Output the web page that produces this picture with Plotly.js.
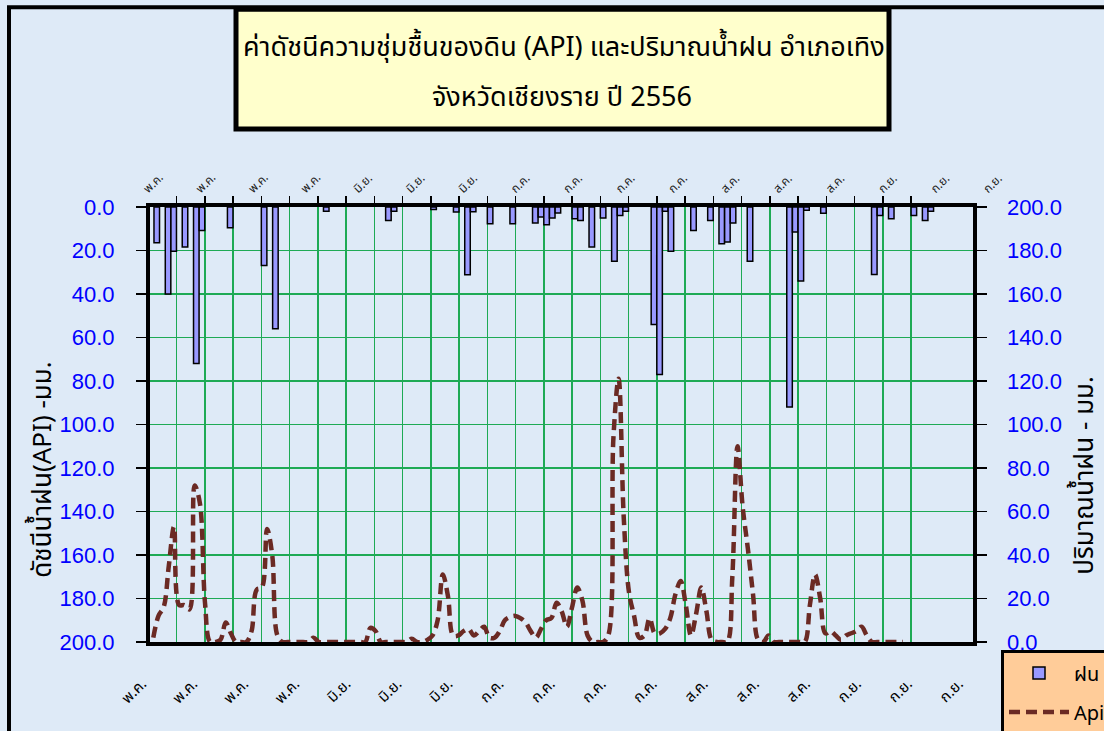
<!DOCTYPE html>
<html><head><meta charset="utf-8">
<script src="https://cdn.plot.ly/plotly-3.0.1.min.js"></script>
<style>html,body{margin:0;padding:0;overflow:hidden;background:#deeaf7}</style>
</head><body><div id="chart" style="width:1104px;height:731px"></div>
<script>
// ---- data ----
const barDays = [1,3,4,6,8,9,14,20,22,31,42,43,50,54,56,57,60,64,68,69,70,71,72,75,76,78,80,82,83,84,89,90,91,92,96,99,101,102,103,106,113,114,115,116,119,128,129,131,135,137,138];
const rainMM = [16.4,40,20.4,18.4,72,10.8,9.5,26.9,56,2,6.2,2,1.2,2.3,31.2,2.2,7.7,7.7,7.4,4.6,8.2,5.1,2.8,5.4,6.2,18.4,5,25,3.9,2,54,77,2,20.4,10.8,6.2,16.9,16.1,7.4,25,92,11.5,34,1.5,2.9,31,3.9,5.4,3.9,6.2,2];
const apiValues = [2,12,16,35,53,17,17,15,72,64,18,0,0,1,9,4,0,0,0,5,24,25,52,40,3,0,0,0,0,0,0,2,0,0,0,0,0,0,0,0,0,0,6.5,5,0,0,0,0,0,0,1.5,0,0,1,3,10,31,21,3,3,5,6,3,5,7,2,2,5,10,11.5,12,11,9,5,2,6,10,11,18,14,7,16,25,19,3,0,0,0,3,94,121,57,23,12,2,3,11,4,4,6,11,22,28,17,3,13,25,14,1,0,0,0,30,90,62,43,22,1,0,3,0,0,0,0,0,0,0,17,31,20,4,5,3,1,3,4,5,7,3,0,0,0,0,0,0,0];
const apiDays = apiValues.map((v, i) => i);
const labelDays = [0,9,18,27,36,45,54,63,72,81,90,99,108,117,126,135,144];
const topLabels = ['พ.ค.','พ.ค.','พ.ค.','พ.ค.','มิ.ย.','มิ.ย.','มิ.ย.','ก.ค.','ก.ค.','ก.ค.','ก.ค.','ส.ค.','ส.ค.','ส.ค.','ก.ย.','ก.ย.','ก.ย.'];
const bottomLabels = ['พ.ค.','พ.ค.','พ.ค.','พ.ค.','มิ.ย.','มิ.ย.','มิ.ย.','ก.ค.','ก.ค.','ก.ค.','ก.ค.','ส.ค.','ส.ค.','ส.ค.','ก.ย.','ก.ย.','ก.ย.'];
const titleLine1 = 'ค่าดัชนีความชุ่มชื้นของดิน (API) และปริมาณน้ำฝน อำเภอเทิง';
const titleLine2 = 'จังหวัดเชียงราย ปี 2556';
const leftTitle = 'ดัชนีน้ำฝน(API) -มม.';
const rightTitle = 'ปริมาณน้ำฝน - มม.';

// ---- layout helpers (pixel -> paper) ----
const L = 100, R = 100, T = 207, B = 88.5;
const PW = 1104 - L - R, PH = 731 - T - B;
const PX = px => (px - L) / PW;
const PY = py => (642.5 - py) / PH;
const FONT = "'Noto Sans Thai', Tahoma, 'Liberation Sans', 'Noto Sans', sans-serif";
const NUMFONT = "'Liberation Sans', Arial, sans-serif";
const GREEN = '#1eaa55';
const BG = '#deeaf7';

const gridVals = [];
for (let v = 4.5; v <= 134.6; v += 5) gridVals.push(v);

const barTrace = {
  type: 'bar', name: 'ฝน', x: barDays, y: rainMM, xaxis: 'x', yaxis: 'y',
  marker: {color: '#9999ff', line: {color: '#000', width: 1.5}},
  legendgroup: 'a'
};
const lineTrace = {
  type: 'scatter', mode: 'lines', name: 'Api', x: apiDays, y: apiValues, xaxis: 'x2', yaxis: 'y2',
  line: {color: '#6b2a24', width: 4.5, dash: '11px,6px', shape: 'spline', smoothing: 1},
  legendgroup: 'b'
};
// empty carriers so the label-only axes get drawn
const topLabelCarrier = {type: 'scatter', mode: 'markers', x: [], y: [], xaxis: 'x3', yaxis: 'y3', showlegend: false};
const bottomLabelCarrier = {type: 'scatter', mode: 'markers', x: [], y: [], xaxis: 'x4', yaxis: 'y3', showlegend: false};

const layout = {
  width: 1104, height: 731,
  margin: {l: L, r: R, t: T, b: B, autoexpand: false},
  paper_bgcolor: BG, plot_bgcolor: 'rgba(0,0,0,0)',
  font: {family: FONT, color: '#000'},
  bargap: 0.02,
  showlegend: true,
  legend: {x: PX(1001), y: PY(651), xanchor: 'left', yanchor: 'top', bgcolor: '#ffcc99',
    bordercolor: '#000', borderwidth: 3, font: {size: 20, family: FONT, color: '#000'},
    traceorder: 'grouped', tracegroupgap: 10, itemwidth: 60},
  xaxis: {
    domain: [PX(150), PX(972.5)], anchor: 'y', side: 'top',
    range: [(150 - 151.1) / 5.65, (972.5 - 151.1) / 5.65],
    tickmode: 'array', tickvals: gridVals, showticklabels: false,
    ticks: 'outside', ticklen: 7, tickwidth: 1.5, tickcolor: '#000',
    showgrid: true, gridcolor: GREEN, gridwidth: 1.5,
    showline: true, linecolor: '#000', linewidth: 4, zeroline: false
  },
  xaxis2: {
    overlaying: 'x', anchor: 'y', side: 'bottom',
    range: [(150 - 153.3) / 5.17, (972.5 - 153.3) / 5.17],
    showgrid: false, showticklabels: false, ticks: '',
    showline: true, linecolor: '#000', linewidth: 4, zeroline: false
  },
  xaxis3: {
    domain: [0, 1], anchor: 'y3', side: 'top',
    range: [(L - 144) / 5.833, (L + PW - 144) / 5.833],
    tickmode: 'array', tickvals: labelDays, ticktext: topLabels, tickangle: -45,
    ticks: '', showgrid: false, showline: false, zeroline: false,
    tickfont: {size: 12, color: '#222', family: FONT}, ticklabelstandoff: 8
  },
  xaxis4: {
    domain: [0, 1], anchor: 'y3', side: 'bottom',
    range: [(L - 142) / 5.673, (L + PW - 142) / 5.673],
    tickmode: 'array', tickvals: labelDays, ticktext: bottomLabels, tickangle: -45,
    ticks: '', showgrid: false, showline: false, zeroline: false,
    tickfont: {size: 15, color: '#000', family: FONT}, ticklabelstandoff: 29
  },
  yaxis: {
    domain: [0, 1], anchor: 'x', side: 'left', range: [200, 0],
    tickmode: 'linear', tick0: 0, dtick: 20, tickformat: '.1f',
    ticks: 'outside', ticklen: 10, tickwidth: 1.5, tickcolor: '#000',
    showgrid: true, gridcolor: GREEN, gridwidth: 1.5,
    showline: true, linecolor: '#000', linewidth: 4, zeroline: false,
    tickfont: {family: NUMFONT, size: 22, color: '#0000ff'},
    ticklabelstandoff: 17
  },
  yaxis2: {
    overlaying: 'y', anchor: 'x', side: 'right', range: [0, 200],
    tickmode: 'linear', tick0: 0, dtick: 20, tickformat: '.1f',
    ticks: 'outside', ticklen: 10, tickwidth: 1.5, tickcolor: '#000',
    showgrid: false, showline: true, linecolor: '#000', linewidth: 4, zeroline: false,
    tickfont: {family: NUMFONT, size: 22, color: '#0000ff'},
    ticklabelstandoff: 16
  },
  yaxis3: {domain: [0, 1], anchor: 'x3', showgrid: false, zeroline: false, showline: false,
    showticklabels: false, ticks: '', range: [0, 1]},
  shapes: [
    {type: 'rect', xref: 'paper', yref: 'paper', x0: PX(9), x1: PX(1120), y0: PY(760), y1: PY(7),
     line: {color: '#000', width: 4}, fillcolor: 'rgba(0,0,0,0)', layer: 'below'},
    {type: 'rect', xref: 'paper', yref: 'paper', x0: PX(236), x1: PX(889), y0: PY(129), y1: PY(9),
     line: {color: '#000', width: 5}, fillcolor: '#ffffcc', layer: 'above'}
  ],
  annotations: [
    {xref: 'paper', yref: 'paper', x: PX(564), y: PY(47), xanchor: 'center', yanchor: 'middle',
     text: titleLine1, showarrow: false, font: {size: 27, family: FONT, color: '#000'}},
    {xref: 'paper', yref: 'paper', x: PX(562), y: PY(97), xanchor: 'center', yanchor: 'middle',
     text: titleLine2, showarrow: false, font: {size: 27, family: FONT, color: '#000'}},
    {xref: 'paper', yref: 'paper', x: PX(43), y: PY(470), xanchor: 'center', yanchor: 'middle',
     text: leftTitle, textangle: -90, showarrow: false, font: {size: 26, family: FONT, color: '#000'}},
    {xref: 'paper', yref: 'paper', x: PX(1085), y: PY(476), xanchor: 'center', yanchor: 'middle',
     text: rightTitle, textangle: -90, showarrow: false, font: {size: 26, family: FONT, color: '#000'}}
  ]
};

Plotly.newPlot('chart', [barTrace, lineTrace, topLabelCarrier, bottomLabelCarrier], layout,
  {displayModeBar: false, staticPlot: true});
</script>
</body></html>
